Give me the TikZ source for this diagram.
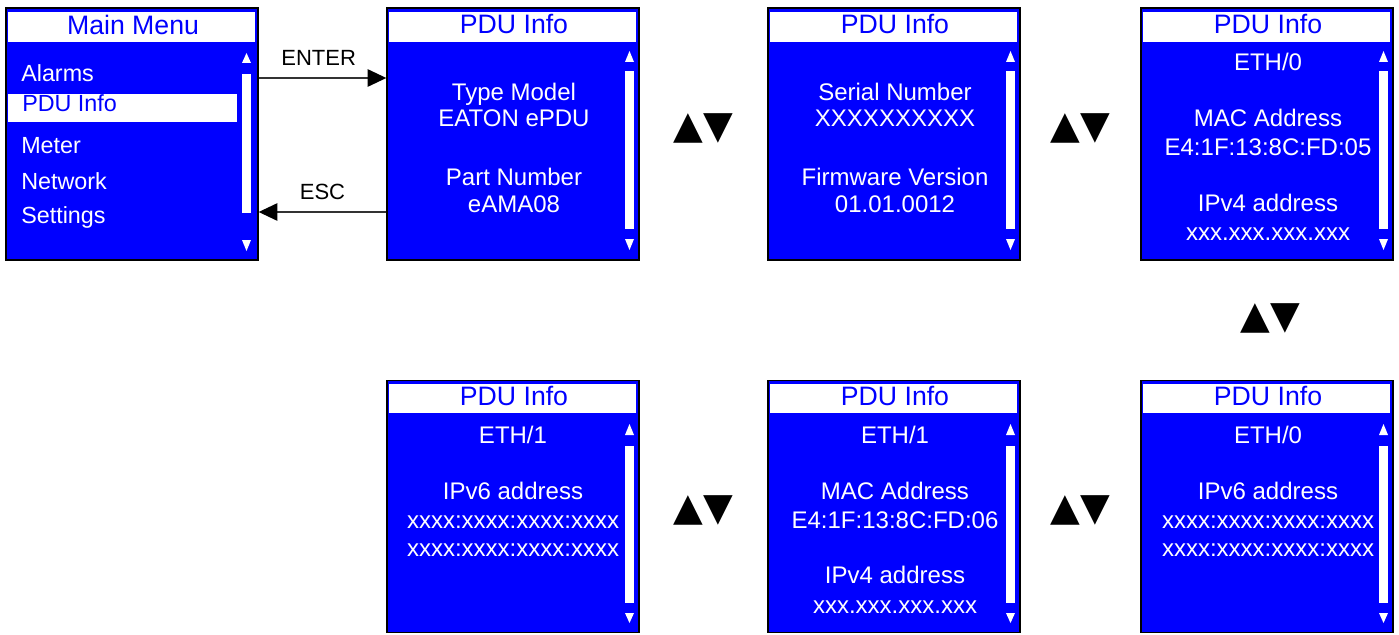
\documentclass[tikz,border=0pt]{standalone}
\usepackage{fontspec}
\setmainfont{Liberation Sans}
\newfontfamily\symfont{DejaVu Sans}
\usetikzlibrary{arrows.meta}
\definecolor{lcdblue}{HTML}{0000FF}

\begin{document}
\begin{tikzpicture}[x=0.75pt, y=-0.75pt,
  screen/.style={draw=black, line width=1pt, fill=lcdblue, minimum width=189pt, minimum height=189pt, inner sep=0pt},
  titletxt/.style={anchor=base, inner sep=0pt, text=lcdblue, font=\fontsize{20}{24}\selectfont},
  bodytxt/.style={anchor=base, inner sep=0pt, text=white, font=\fontsize{18}{22}\selectfont},
  menutxt/.style={anchor=base west, inner sep=0pt, text=white, font=\fontsize{17.5}{21}\selectfont},
  keytxt/.style={anchor=base, inner sep=0pt, text=black, font=\fontsize{16.5}{20}\selectfont},
  updown/.style={inner sep=0pt, font=\symfont\fontsize{29}{30}\selectfont},
  keyarrow/.style={black!80, line width=1.2pt, -{Triangle[length=14pt, width=13pt, color=black]}}]
\path[use as bounding box] (0,0) rectangle (1399,635);
% screens
\node[screen] (menu) at (132,134) {};
\node[screen] (info1) at (513,134) {};
\node[screen] (info2) at (894,134) {};
\node[screen] (info3) at (1267,134) {};
\node[screen] (info4) at (1267,506.5) {};
\node[screen] (info5) at (894,506.5) {};
\node[screen] (info6) at (513,506.5) {};
% title bars
\fill[white] (8,12) rectangle (255,42);
\fill[white] (389,12) rectangle (636,42);
\fill[white] (770,12) rectangle (1017,42);
\fill[white] (1143,12) rectangle (1390,42);
\fill[white] (1143,384) rectangle (1390,413);
\fill[white] (770,384) rectangle (1017,413);
\fill[white] (389,384) rectangle (636,413);
% scroll bars
\fill[white] (242,74) rectangle (251,213);
\fill[white] (242,63) -- (251,63) -- (246.5,53) -- cycle;
\fill[white] (242,240) -- (251,240) -- (246.5,251) -- cycle;
\fill[white] (625,71) rectangle (634,229);
\fill[white] (625,62) -- (634,62) -- (629.5,51) -- cycle;
\fill[white] (625,239) -- (634,239) -- (629.5,250) -- cycle;
\fill[white] (1006,71) rectangle (1015,229);
\fill[white] (1006,62) -- (1015,62) -- (1010.5,51) -- cycle;
\fill[white] (1006,239) -- (1015,239) -- (1010.5,250) -- cycle;
\fill[white] (1379,71) rectangle (1388,229);
\fill[white] (1379,62) -- (1388,62) -- (1383.5,51) -- cycle;
\fill[white] (1379,239) -- (1388,239) -- (1383.5,250) -- cycle;
\fill[white] (1379,446) rectangle (1388,603);
\fill[white] (1379,435) -- (1388,435) -- (1383.5,424) -- cycle;
\fill[white] (1379,613) -- (1388,613) -- (1383.5,623) -- cycle;
\fill[white] (1006,446) rectangle (1015,603);
\fill[white] (1006,435) -- (1015,435) -- (1010.5,424) -- cycle;
\fill[white] (1006,613) -- (1015,613) -- (1010.5,623) -- cycle;
\fill[white] (625,446) rectangle (634,603);
\fill[white] (625,435) -- (634,435) -- (629.5,424) -- cycle;
\fill[white] (625,613) -- (634,613) -- (629.5,623) -- cycle;
% main menu
\node[titletxt] (menu-title) at (133,35) {Main Menu};
\fill[white] (8,94) rectangle (237,122);
\node[menutxt] (menu-alarms) at (21,82) {Alarms};
\node[menutxt, text=lcdblue] (menu-pdu) at (22,112) {PDU Info};
\node[menutxt] (menu-meter) at (21,153) {Meter};
\node[menutxt] (menu-network) at (21,189) {Network};
\node[menutxt] (menu-settings) at (21,223) {Settings};
% pdu info pages
\node[titletxt] (info1-title) at (514,34) {PDU Info};
\node[bodytxt] (info1-a) at (514,100) {Type Model};
\node[bodytxt] (info1-b) at (514,127) {EATON ePDU};
\node[bodytxt] (info1-c) at (514,185) {Part Number};
\node[bodytxt] (info1-d) at (514,212) {eAMA08};
\node[titletxt] (info2-title) at (895,34) {PDU Info};
\node[bodytxt] (info2-a) at (895,100) {Serial Number};
\node[bodytxt] (info2-b) at (895,127) {XXXXXXXXXX};
\node[bodytxt] (info2-c) at (895,185) {Firmware Version};
\node[bodytxt] (info2-d) at (895,212) {01.01.0012};
\node[titletxt] (info3-title) at (1268,34) {PDU Info};
\node[bodytxt] (info3-a) at (1268,71) {ETH/0};
\node[bodytxt] (info3-b) at (1268,127) {MAC Address};
\node[bodytxt] (info3-c) at (1268,155) {E4:1F:13:8C:FD:05};
\node[bodytxt] (info3-d) at (1268,211) {IPv4 address};
\node[bodytxt] (info3-e) at (1268,240) {xxx.xxx.xxx.xxx};
\node[titletxt] (info4-title) at (1268,405) {PDU Info};
\node[bodytxt] (info4-a) at (1268,443) {ETH/0};
\node[bodytxt] (info4-b) at (1268,499) {IPv6 address};
\node[bodytxt] (info4-c) at (1268,528) {xxxx:xxxx:xxxx:xxxx};
\node[bodytxt] (info4-d) at (1268,556) {xxxx:xxxx:xxxx:xxxx};
\node[titletxt] (info5-title) at (895,405) {PDU Info};
\node[bodytxt] (info5-a) at (895,443) {ETH/1};
\node[bodytxt] (info5-b) at (895,499) {MAC Address};
\node[bodytxt] (info5-c) at (895,528) {E4:1F:13:8C:FD:06};
\node[bodytxt] (info5-d) at (895,583) {IPv4 address};
\node[bodytxt] (info5-e) at (895,613) {xxx.xxx.xxx.xxx};
\node[titletxt] (info6-title) at (514,405) {PDU Info};
\node[bodytxt] (info6-a) at (513,443) {ETH/1};
\node[bodytxt] (info6-b) at (513,499) {IPv6 address};
\node[bodytxt] (info6-c) at (513,528) {xxxx:xxxx:xxxx:xxxx};
\node[bodytxt] (info6-d) at (513,556) {xxxx:xxxx:xxxx:xxxx};
% keys
\draw[keyarrow] ([yshift=42pt]menu.east) -- ([yshift=42pt]info1.west) node[keytxt, pos=0.47, yshift=9pt] (enter) {ENTER};
\draw[keyarrow] ([yshift=-58.5pt]info1.west) -- ([yshift=-58.5pt]menu.east) node[keytxt, pos=0.5, yshift=9.75pt] (esc) {ESC};
\node[updown] (ud1) at (703,128) {▲▼};
\node[updown] (ud2) at (1080,128) {▲▼};
\node[updown] (ud3) at (1270,318) {▲▼};
\node[updown] (ud4) at (1080,510) {▲▼};
\node[updown] (ud5) at (703,510) {▲▼};
\end{tikzpicture}
\end{document}
